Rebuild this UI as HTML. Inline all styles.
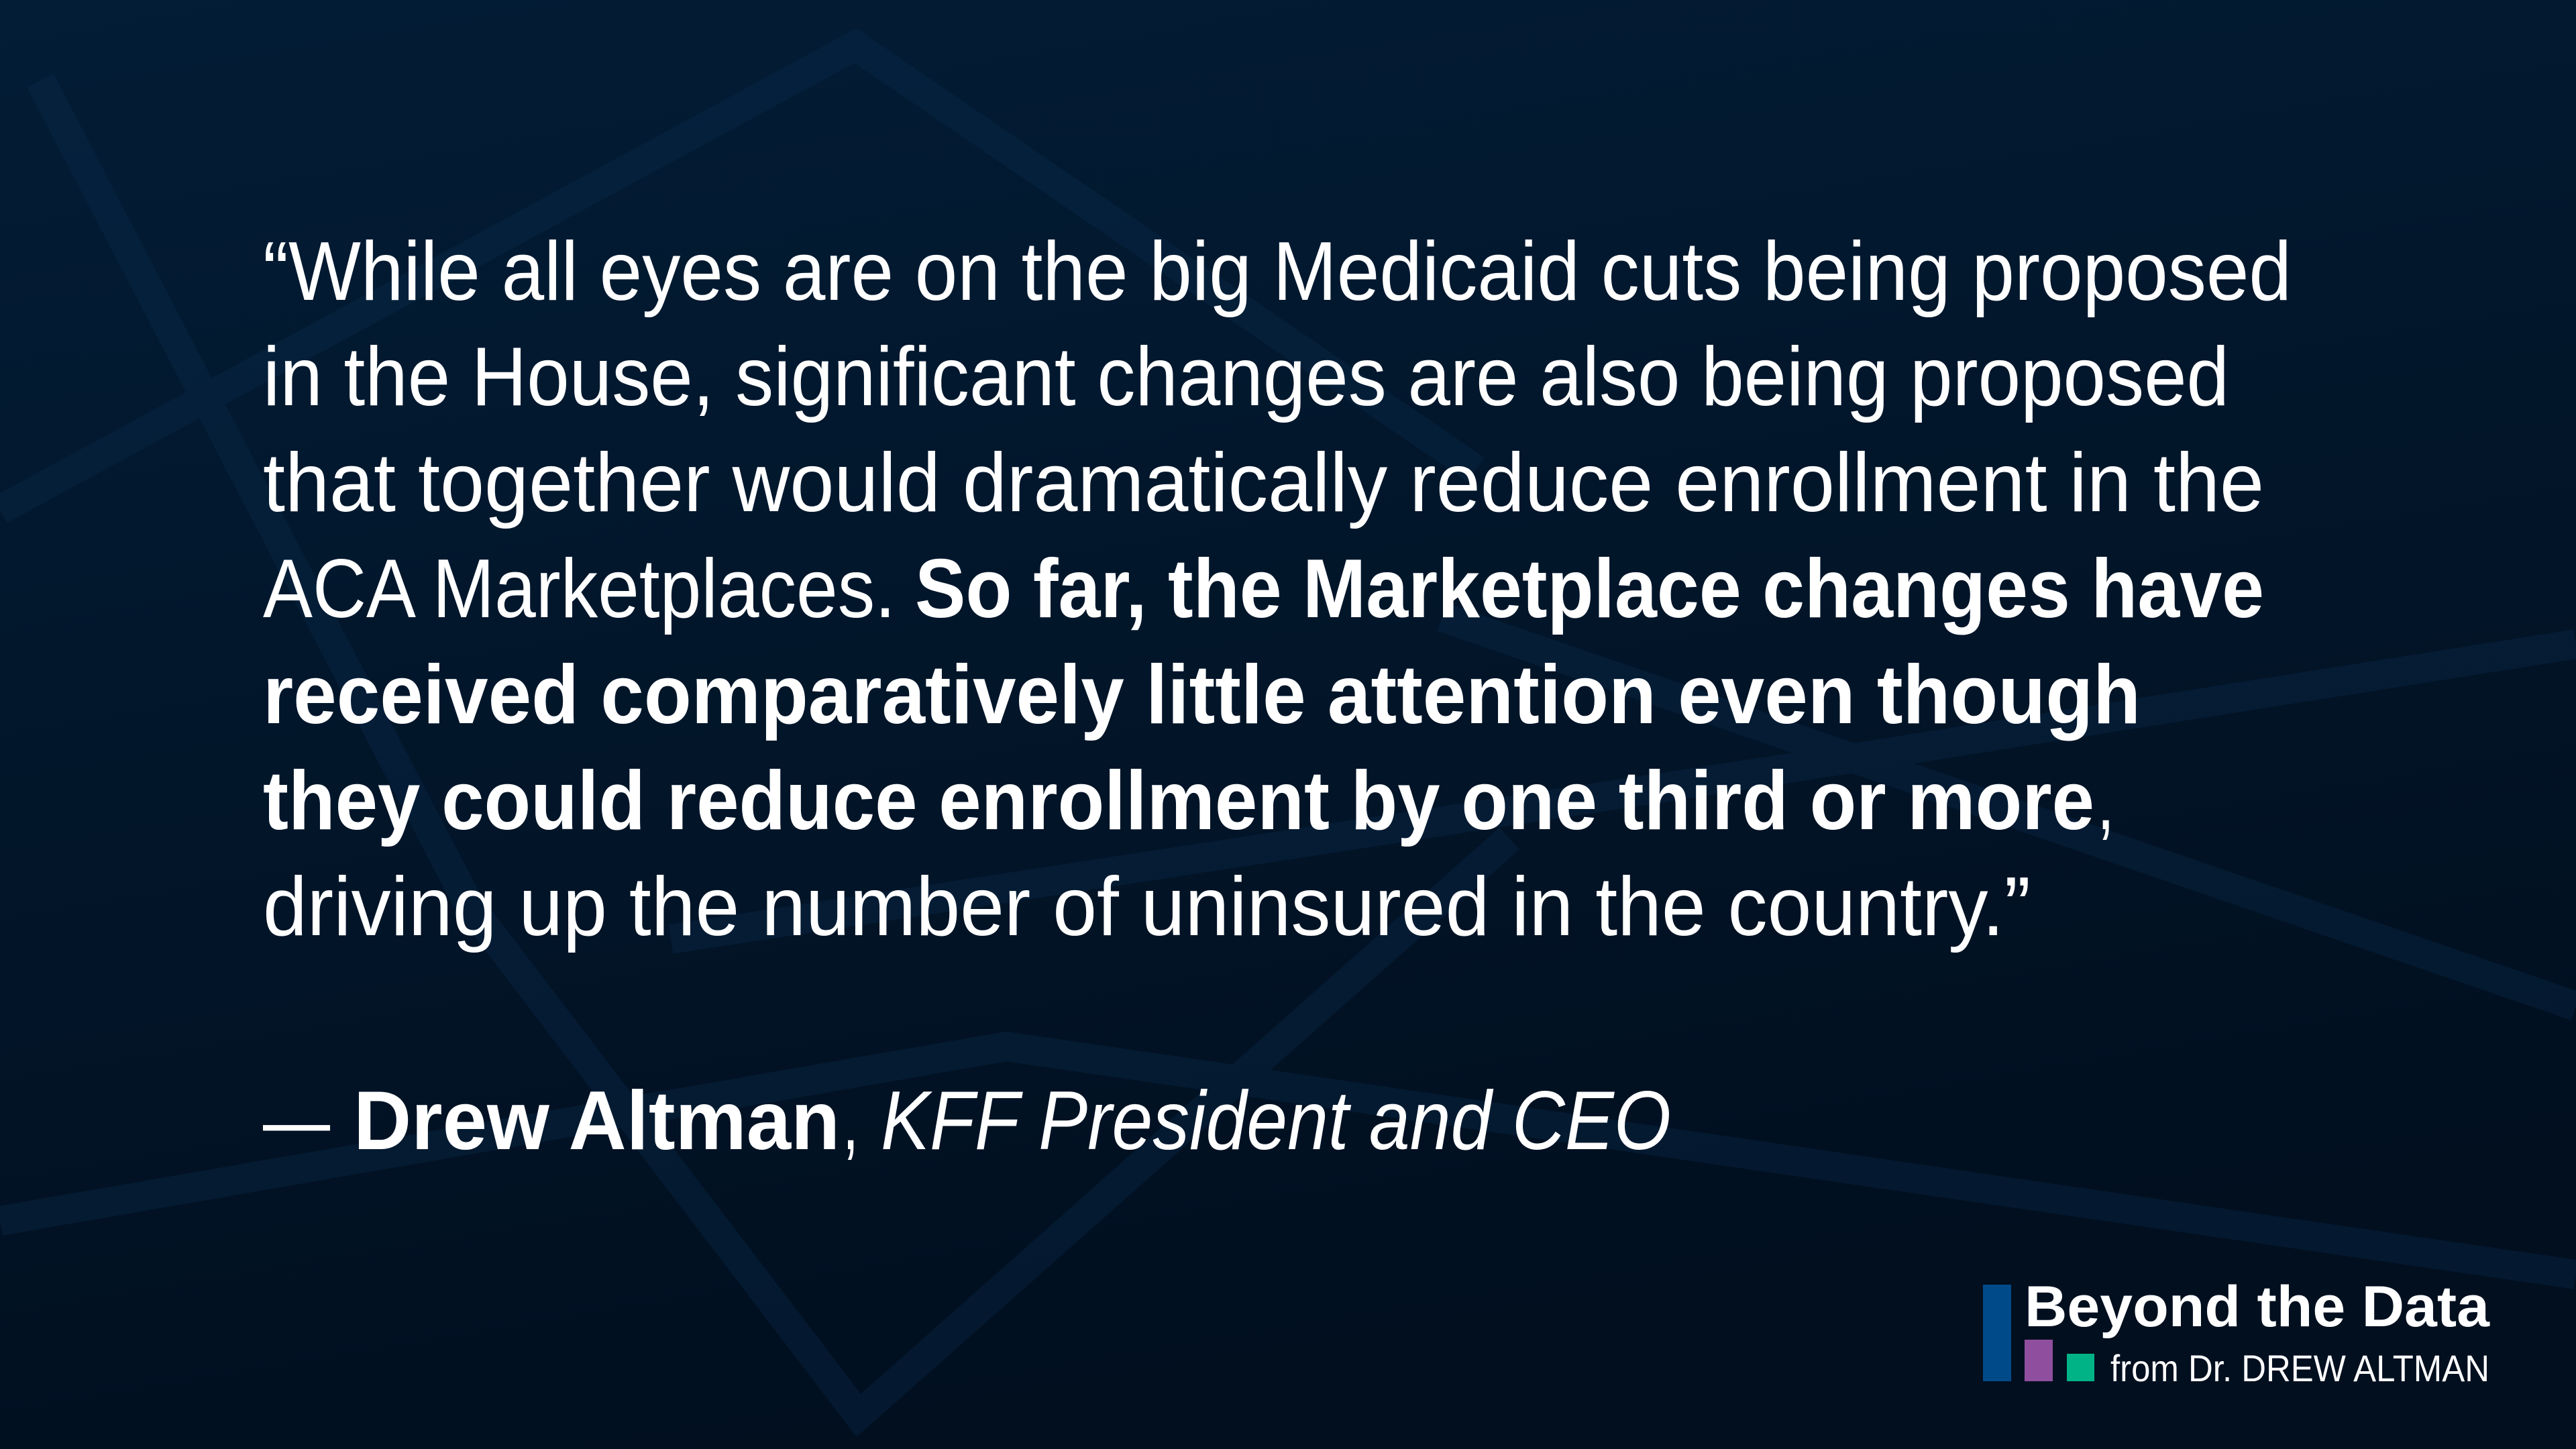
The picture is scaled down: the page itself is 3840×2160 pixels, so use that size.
<!DOCTYPE html>
<html><head><meta charset="utf-8"><style>
html,body{margin:0;padding:0;background:#021628;}
svg{display:block}
text{font-family:"Liberation Sans",sans-serif;fill:#fff}
</style></head><body>
<svg width="3840" height="2160" viewBox="0 0 3840 2160" xmlns="http://www.w3.org/2000/svg">
<defs>
<linearGradient id="bg" x1="0" y1="0" x2="0.3" y2="1">
<stop offset="0" stop-color="#031d36"/><stop offset="1" stop-color="#010f1f"/>
</linearGradient>
</defs>
<rect width="3840" height="2160" fill="url(#bg)"/>
<g fill="none" stroke="#0b2c4d" stroke-width="44" opacity="0.35">
<polyline points="0,760 1275,68 2200,700"/>
<polyline points="60,120 700,1350 1280,2110 2250,1250"/>
<polyline points="0,1820 1500,1560 3840,1900"/>
<polyline points="2150,920 3840,1500"/>
<polyline points="1000,1400 2700,1140 3840,960"/>
</g>
<g font-size="124">
<text x="392" y="447" textLength="3024" lengthAdjust="spacingAndGlyphs">“While all eyes are on the big Medicaid cuts being proposed</text>
<text x="392" y="604" textLength="2931" lengthAdjust="spacingAndGlyphs">in the House, significant changes are also being proposed</text>
<text x="392" y="762" textLength="2983" lengthAdjust="spacingAndGlyphs">that together would dramatically reduce enrollment in the</text>
<text x="392" y="920" textLength="943" lengthAdjust="spacingAndGlyphs">ACA Marketplaces.</text>
<text x="1364" y="920" font-weight="bold" textLength="2011" lengthAdjust="spacingAndGlyphs">So far, the Marketplace changes have</text>
<text x="392" y="1078" font-weight="bold" textLength="2799" lengthAdjust="spacingAndGlyphs">received comparatively little attention even though</text>
<text x="392" y="1236" font-weight="bold" textLength="2730" lengthAdjust="spacingAndGlyphs">they could reduce enrollment by one third or more</text>
<text x="3126" y="1236" textLength="26" lengthAdjust="spacingAndGlyphs">,</text>
<text x="392" y="1394" textLength="2635" lengthAdjust="spacingAndGlyphs">driving up the number of uninsured in the country.”</text>
</g>
<g font-size="124">
<text x="392" y="1713" textLength="100" lengthAdjust="spacingAndGlyphs">—</text>
<text x="527" y="1713" font-weight="bold" textLength="725" lengthAdjust="spacingAndGlyphs">Drew Altman</text>
<text x="1256" y="1713" textLength="24" lengthAdjust="spacingAndGlyphs">,</text>
<text x="1313" y="1713" font-style="italic" textLength="1178" lengthAdjust="spacingAndGlyphs">KFF President and CEO</text>
</g>
<g>
<rect x="2956" y="1915" width="42" height="144" fill="#004a8a"/>
<rect x="3018" y="1997" width="42" height="62" fill="#8f4f9e"/>
<rect x="3081" y="2018" width="41" height="41" fill="#00b386"/>
<text x="3018" y="1977" font-size="86" font-weight="bold" textLength="693" lengthAdjust="spacingAndGlyphs">Beyond the Data</text>
<text x="3146" y="2059" font-size="56" textLength="565" lengthAdjust="spacingAndGlyphs">from Dr. DREW ALTMAN</text>
</g>
</svg>
</body></html>
